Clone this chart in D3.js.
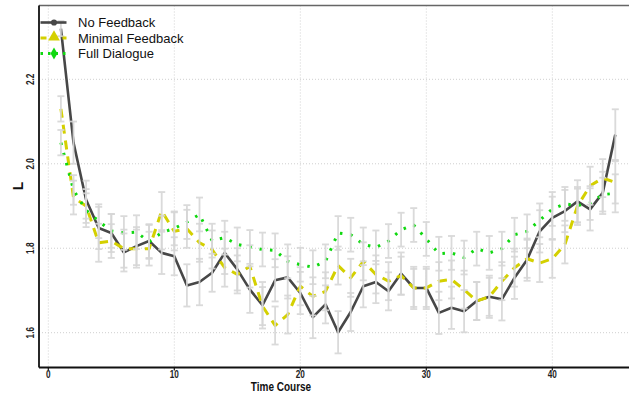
<!DOCTYPE html>
<html>
<head>
<meta charset="utf-8">
<script src="https://cdn.jsdelivr.net/npm/d3@7"></script>
<style>
  html, body { margin: 0; padding: 0; background: #fff; }
  svg { display: block; }
</style>
</head>
<body>
<div id="chart"></div>
<script>
// time points 1..45
const timeCourse = [1,2,3,4,5,6,7,8,9,10,11,12,13,14,15,16,17,18,19,20,21,22,23,24,25,26,27,28,29,30,31,32,33,34,35,36,37,38,39,40,41,42,43,44,45]

const noFeedback = [2.32, 2.05, 1.915, 1.848, 1.836, 1.79, 1.805, 1.817, 1.789, 1.781,
  1.712, 1.72, 1.742, 1.789, 1.75, 1.702, 1.665, 1.724, 1.731, 1.694,
  1.637, 1.667, 1.601, 1.649, 1.71, 1.72, 1.698, 1.74, 1.706, 1.706,
  1.647, 1.659, 1.651, 1.675, 1.685, 1.679, 1.73, 1.773, 1.84, 1.872,
  1.888, 1.911, 1.892, 1.931, 2.069]
const noFeedbackSe = [0.018, 0.05, 0.045, 0.05, 0.045, 0.045, 0.045, 0.04, 0.05, 0.045,
  0.05, 0.055, 0.045, 0.05, 0.05, 0.055, 0.055, 0.05, 0.05, 0.05,
  0.05, 0.045, 0.05, 0.045, 0.05, 0.05, 0.045, 0.05, 0.05, 0.05,
  0.05, 0.05, 0.05, 0.045, 0.05, 0.05, 0.05, 0.05, 0.05, 0.05,
  0.05, 0.05, 0.05, 0.05, 0.06]

const minimalFeedback = [2.13, 1.92, 1.90, 1.813, 1.817, 1.799, 1.799, 1.799, 1.888, 1.840,
  1.846, 1.813, 1.797, 1.754, 1.738, 1.757, 1.663, 1.617, 1.643, 1.710,
  1.686, 1.698, 1.759, 1.730, 1.769, 1.738, 1.722, 1.735, 1.706, 1.706,
  1.722, 1.726, 1.702, 1.675, 1.685, 1.722, 1.754, 1.775, 1.765, 1.775,
  1.809, 1.900, 1.948, 1.966, 1.956]
const minimalFeedbackSe = [0.03, 0.04, 0.04, 0.045, 0.04, 0.045, 0.045, 0.04, 0.045, 0.045,
  0.045, 0.045, 0.045, 0.045, 0.045, 0.05, 0.045, 0.045, 0.045, 0.045,
  0.045, 0.045, 0.045, 0.045, 0.045, 0.045, 0.045, 0.045, 0.045, 0.045,
  0.045, 0.045, 0.045, 0.045, 0.045, 0.045, 0.045, 0.045, 0.045, 0.045,
  0.045, 0.045, 0.045, 0.045, 0.05]

const fullDialogue = [2.05, 1.938, 1.89, 1.864, 1.841, 1.836, 1.838, 1.815, 1.837, 1.847,
  1.862, 1.88, 1.818, 1.825, 1.809, 1.803, 1.797, 1.795, 1.769, 1.761,
  1.755, 1.769, 1.836, 1.832, 1.809, 1.802, 1.817, 1.844, 1.855, 1.822,
  1.787, 1.789, 1.778, 1.799, 1.789, 1.799, 1.832, 1.84, 1.866, 1.893,
  1.905, 1.901, 1.907, 1.927, 1.93]
const fullDialogueSe = [0.03, 0.035, 0.04, 0.04, 0.04, 0.04, 0.04, 0.04, 0.04, 0.04,
  0.04, 0.04, 0.04, 0.04, 0.04, 0.04, 0.04, 0.04, 0.04, 0.04,
  0.04, 0.04, 0.04, 0.04, 0.04, 0.04, 0.04, 0.04, 0.04, 0.04,
  0.04, 0.04, 0.04, 0.04, 0.04, 0.04, 0.04, 0.04, 0.04, 0.04,
  0.04, 0.04, 0.04, 0.04, 0.045]

const xTicks = [0, 10, 20, 30, 40]
const yTicks = [1.6, 1.8, 2.0, 2.2]
const seriesNames = ["No Feedback", "Minimal Feedback", "Full Dialogue"]

const width = 629
const height = 394
const plotLeft = 39, plotRight = 629, plotTop = 5.5, plotBottom = 367.5

const svg = d3.select("#chart")
  .append("svg")
  .attr("width", width)
  .attr("height", height)

const x = d3.scaleLinear().domain([0, 40]).range([48.3, 552.3])
const y = d3.scaleLinear().domain([1.6, 2.2]).range([332.7, 79.3])

// grid
svg.append("g")
  .selectAll("line")
  .data(xTicks)
  .join("line")
  .attr("x1", d => x(d)).attr("x2", d => x(d))
  .attr("y1", plotTop).attr("y2", plotBottom)
  .attr("stroke", "#cfcfcf").attr("stroke-dasharray", "1,2")

svg.append("g")
  .selectAll("line")
  .data(yTicks)
  .join("line")
  .attr("x1", plotLeft).attr("x2", plotRight)
  .attr("y1", d => y(d)).attr("y2", d => y(d))
  .attr("stroke", "#cfcfcf").attr("stroke-dasharray", "1,2")

const series = [
  { name: seriesNames[0], values: noFeedback, se: noFeedbackSe, color: "#474747", width: 2.6, dash: null },
  { name: seriesNames[1], values: minimalFeedback, se: minimalFeedbackSe, color: "#d4d000", width: 3, dash: "9,7" },
  { name: seriesNames[2], values: fullDialogue, se: fullDialogueSe, color: "#10d810", width: 3, dash: "2.5,8" }
]

const line = d3.line()
  .x(d => x(d.t))
  .y(d => y(d.v))

series.forEach(s => {
  const pts = timeCourse.map((t, i) => ({ t, v: s.values[i] }))
  svg.append("path")
    .datum(pts)
    .attr("d", line)
    .attr("fill", "none")
    .attr("stroke", s.color)
    .attr("stroke-width", s.width)
    .attr("stroke-dasharray", s.dash)
    .attr("stroke-linejoin", "round")
})

// error bars on top
series.forEach(s => {
  const g = svg.append("g")
    .attr("stroke", "#d6d6d6")
    .attr("stroke-width", 1.8)
    .attr("opacity", 0.9)
  timeCourse.forEach((t, i) => {
    const cx = x(t)
    const lo = y(s.values[i] - s.se[i])
    const hi = y(s.values[i] + s.se[i])
    g.append("line").attr("x1", cx).attr("x2", cx).attr("y1", lo).attr("y2", hi)
    g.append("line").attr("x1", cx - 3.5).attr("x2", cx + 3.5).attr("y1", lo).attr("y2", lo)
    g.append("line").attr("x1", cx - 3.5).attr("x2", cx + 3.5).attr("y1", hi).attr("y2", hi)
  })
})

// frame
svg.append("line")
  .attr("x1", plotLeft).attr("x2", plotRight)
  .attr("y1", plotTop).attr("y2", plotTop)
  .attr("stroke", "#666").attr("stroke-width", 1.6)
svg.append("line")
  .attr("x1", plotLeft).attr("x2", plotLeft)
  .attr("y1", plotTop).attr("y2", plotBottom)
  .attr("stroke", "#111").attr("stroke-width", 1.8)
svg.append("line")
  .attr("x1", plotLeft).attr("x2", plotRight)
  .attr("y1", plotBottom).attr("y2", plotBottom)
  .attr("stroke", "#111").attr("stroke-width", 1.8)

const tickFont = "'Liberation Sans', Arial, sans-serif"

// x ticks (narrowed with a horizontal squeeze)
xTicks.forEach(d => {
  svg.append("line")
    .attr("x1", x(d)).attr("x2", x(d))
    .attr("y1", plotBottom).attr("y2", plotBottom + 3)
    .attr("stroke", "#111").attr("stroke-width", 1.2)
  svg.append("text")
    .attr("transform", `translate(${x(d)},377.5) scale(0.82,1)`)
    .attr("text-anchor", "middle")
    .attr("font-family", tickFont)
    .attr("font-weight", "bold")
    .attr("font-size", 10)
    .attr("fill", "#222")
    .text(d)
})

// y ticks
yTicks.forEach(d => {
  svg.append("text")
    .attr("transform", `translate(33.5,${y(d)}) rotate(-90) scale(0.82,1)`)
    .attr("text-anchor", "middle")
    .attr("font-family", tickFont)
    .attr("font-weight", "bold")
    .attr("font-size", 10)
    .attr("fill", "#222")
    .text(d.toFixed(1))
})

// axis titles
svg.append("text")
  .attr("transform", "translate(281,391) scale(0.8,1)")
  .attr("text-anchor", "middle")
  .attr("font-family", tickFont)
  .attr("font-weight", "bold")
  .attr("font-size", 12.5)
  .attr("fill", "#111")
  .text("Time Course")

svg.append("text")
  .attr("transform", "translate(22.5,186) rotate(-90)")
  .attr("text-anchor", "middle")
  .attr("font-family", tickFont)
  .attr("font-weight", "bold")
  .attr("font-size", 14)
  .attr("fill", "#111")
  .text("L")

// legend
const legendY = [22.5, 38, 53.5]
series.forEach((s, i) => {
  const ly = legendY[i]
  svg.append("line")
    .attr("x1", 40.5).attr("x2", 66.5)
    .attr("y1", ly).attr("y2", ly)
    .attr("stroke", s.color)
    .attr("stroke-width", s.width)
    .attr("stroke-dasharray", i === 1 ? "6,5" : i === 2 ? "2.5,5" : null)
  let sym = i === 0 ? d3.symbolCircle : i === 1 ? d3.symbolTriangle : d3.symbolDiamond
  let size = i === 0 ? 30 : i === 1 ? 60 : 40
  svg.append("path")
    .attr("d", d3.symbol().type(sym).size(size))
    .attr("transform", `translate(54,${ly - (i === 1 ? 1 : 0)})`)
    .attr("fill", s.color)
  svg.append("text")
    .attr("x", 78).attr("y", ly + 4.6)
    .attr("font-family", tickFont)
    .attr("font-size", 13)
    .attr("fill", "#111")
    .text(s.name)
})
</script>
</body>
</html>
